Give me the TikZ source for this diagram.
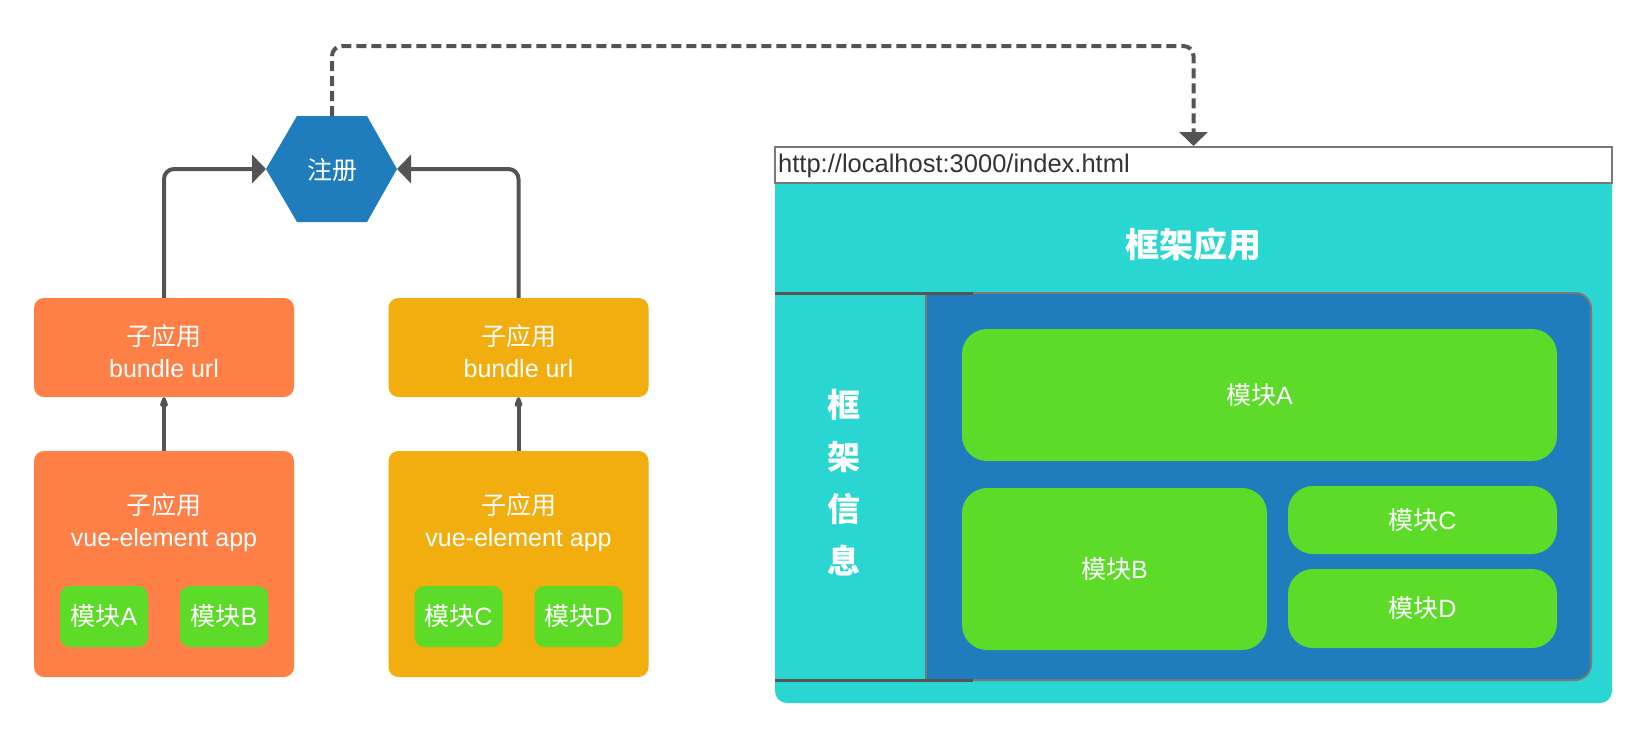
\documentclass[tikz,border=0pt]{standalone}
\usepackage{fontspec}
\setmainfont{Liberation Sans}
\newfontfamily\cjk{Noto Sans CJK SC}
\usetikzlibrary{arrows.meta}
\usetikzlibrary{positioning}
\definecolor{morange}{rgb}{1, 0.5, 0.28}
\definecolor{myellow}{rgb}{0.95, 0.68, 0.06}
\definecolor{mgreen}{rgb}{0.36, 0.86, 0.16}
\definecolor{mteal}{rgb}{0.16, 0.84, 0.82}
\definecolor{mblue}{rgb}{0.12, 0.49, 0.74}
\definecolor{mline}{rgb}{0.33, 0.33, 0.33}
\definecolor{mborder}{rgb}{0.47, 0.47, 0.47}
\definecolor{mtext}{rgb}{0.2, 0.2, 0.2}
\newcommand\zh[1]{{\cjk #1}}
\tikzset{txt/.style = {text=white, font=\fontsize{25}{32}\selectfont, align=center, inner sep=0}}
\tikzset{appbox/.style = {txt, rounded corners=10pt, minimum width=260, minimum height=#1}}
\tikzset{modbox/.style = {txt, fill=mgreen, rounded corners=10pt, minimum width=88, minimum height=61}}
\tikzset{bigmod/.style = {txt, fill=mgreen, rounded corners=25pt}}
\tikzset{conn/.style = {draw=mline, line width=4pt, rounded corners=10pt, -{Triangle[width=28pt, length=14pt]}}}
\tikzset{dconn/.style = {conn, dash pattern=on 10pt off 5pt}}
\tikzset{sconn/.style = {draw=mline, line width=4pt, -{Triangle[width=8pt, length=14pt, round]}}}

\begin{document}
\begin{tikzpicture}[x=1pt, y=-1pt]
    \useasboundingbox (0, 0) rectangle (1648, 736);

    % sub apps
    \node [appbox=99, fill=morange] (lb) at (164, 347.5) {};
    \node [appbox=99, fill=myellow] (yb) at (518.5, 347.5) {};
    \node [txt] (lbT) at (164, 351) {\zh{子应用}\\bundle url};
    \node [txt] (ybT) at (518.5, 351) {\zh{子应用}\\bundle url};
    \node [appbox=226, fill=morange] (la) at (164, 564) {};
    \node [appbox=226, fill=myellow] (ya) at (518.5, 564) {};
    \node [txt] (laT) at (164, 522) {\zh{子应用}\\vue-element app};
    \node [txt] (yaT) at (518.5, 522) {\zh{子应用}\\vue-element app};
    \node [modbox] (lmA) at (104, 616.5) {\zh{模块}A};
    \node [modbox] (lmB) at (224, 616.5) {\zh{模块}B};
    \node [modbox] (ymC) at (458.5, 616.5) {\zh{模块}C};
    \node [modbox] (ymD) at (578.5, 616.5) {\zh{模块}D};

    \draw [sconn] (la.north) -- (lb.south);
    \draw [sconn] (ya.north) -- (yb.south);

    % register hexagon
    \coordinate (regW) at (266, 169);
    \coordinate (regE) at (397, 169);
    \coordinate (regN) at (332, 116);
    \fill [mblue] (regW) -- (297, 116) -- (367, 116) -- (regE) -- (367, 222) -- (297, 222) -- cycle;
    \node [txt] (reg) at (332, 170) {\zh{注册}};

    \draw [conn] (lb.north) |- (regW);
    \draw [conn] (yb.north) |- (regE);

    % frame app
    \fill [mteal, rounded corners=12pt] (1612, 170) -- (1612, 703) -- (775, 703) -- (775, 170);
    \node [draw=mborder, line width=2pt, fill=white, minimum width=837, minimum height=36, inner sep=0] (url) at (1193.5, 165) {};
    \node [anchor=west, text=mtext, font=\fontsize{25.5}{30}\selectfont, inner sep=0] (urlT) at (778, 166) {http://localhost:3000/index.html};
    \node [txt, font=\fontsize{34}{40}\selectfont\bfseries\cjk] (title) at (1193, 245) {框架应用};

    \filldraw [fill=mblue, draw=mborder, line width=2pt, rounded corners=16pt] (926, 293) -- (1591, 293) -- (1591, 680) -- (926, 680);
    \draw [mborder, line width=2pt] (926, 293) -- (926, 680);
    \draw [mline, line width=3pt] (775, 293) -- (973, 293);
    \draw [mline, line width=3pt] (775, 680) -- (973, 680);
    \node [txt, font=\fontsize{33}{52}\selectfont\bfseries\cjk] (side) at (844, 483) {框\\架\\信\\息};

    \node [bigmod, minimum width=595, minimum height=132] (mA) at (1259.5, 395) {\zh{模块}A};
    \node [bigmod, minimum width=305, minimum height=162] (mB) at (1114.5, 569) {\zh{模块}B};
    \node [bigmod, minimum width=269, minimum height=68] (mC) at (1422.5, 520) {\zh{模块}C};
    \node [bigmod, minimum width=269, minimum height=79] (mD) at (1422.5, 608.5) {\zh{模块}D};

    \draw [dconn] (regN) -- ++(0, -70) -| (url.north);
\end{tikzpicture}
\end{document}
